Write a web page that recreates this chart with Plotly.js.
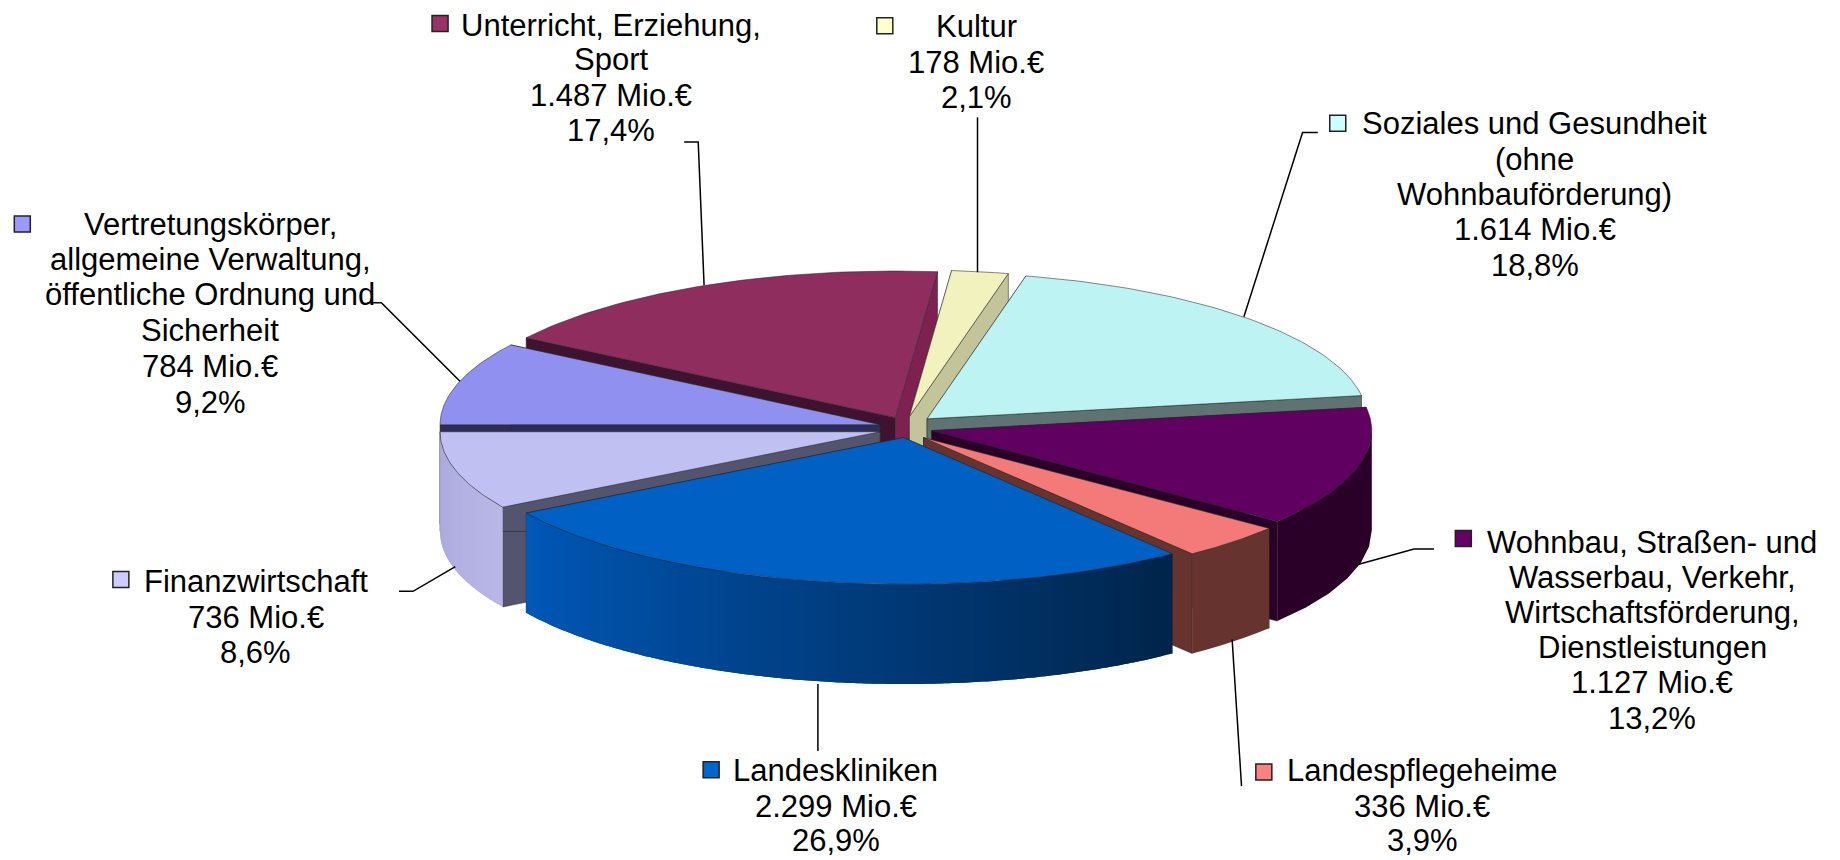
<!DOCTYPE html>
<html><head><meta charset="utf-8">
<script src="https://cdn.plot.ly/plotly-3.0.1.min.js"></script>
<style>html,body{margin:0;padding:0;background:#fff}#c{width:1840px;height:860px}</style>
</head><body><div id="c"></div>
<script>
// DATA (clockwise from the top)
const categories=["Kultur","Soziales und Gesundheit (ohne Wohnbauförderung)","Wohnbau, Straßen- und Wasserbau, Verkehr, Wirtschaftsförderung, Dienstleistungen","Landespflegeheime","Landeskliniken","Finanzwirtschaft","Vertretungskörper, allgemeine Verwaltung, öffentliche Ordnung und Sicherheit","Unterricht, Erziehung, Sport"];
const values=[178,1614,1127,336,2299,736,784,1487];
const percents=["2,1%","18,8%","13,2%","3,9%","26,9%","8,6%","9,2%","17,4%"];
const valueTexts=["178 Mio.€","1.614 Mio.€","1.127 Mio.€","336 Mio.€","2.299 Mio.€","736 Mio.€","784 Mio.€","1.487 Mio.€"];
const labelLines=[["Kultur"],["Soziales und Gesundheit","(ohne","Wohnbauförderung)"],["Wohnbau, Straßen- und","Wasserbau, Verkehr,","Wirtschaftsförderung,","Dienstleistungen"],["Landespflegeheime"],["Landeskliniken"],["Finanzwirtschaft"],["Vertretungskörper,","allgemeine Verwaltung,","öffentliche Ordnung und","Sicherheit"],["Unterricht, Erziehung,","Sport"]];

// STYLE / LAYOUT (axis units = 1568x733 grid)
const topColors=["#f2f2bf","#bdf3f3","#600060","#f47a7a","#0060c4","#c0c0f2","#9090f0","#8f2d5e"];
const keyColors=["#ffffcc","#ccffff","#660066","#ff8080","#0066cc","#ccccff","#9999ff","#993366"];
const startWall=["#c4c49b","#8fb5b5","#2a0028","#67332f","#003060","#55546f","#2e2d5a","#3f1230"];
const endWall=["#c4c49b","#5f7372","#2a0028","#67332f","#003060","#55546f","#2e2d5a","#7e2050"];
const rimFrom=["#c4c49b","#8fb5b5","#2a0028","#67332f","#00244a","#b8b7e6","#2e2d5a","#7e2050"];
const rimTo=["#c4c49b","#8fb5b5","#2a0028","#67332f","#0058b8","#a9a8dc","#2e2d5a","#7e2050"];
const apexX=[775,790,794,787,770,750,750,763];
const apexY=[355,357,367,373,373,368,362,356];
const drawOrder=[7,0,1,6,2,5,3,4];
const radiusA=375, radiusB=125, depth=85, startAngle=5.5;
const lineX=[832,1308,1408,1212,712,218,179,521];
const lineY=[[23,53,83],[105,136,166,196,226],[462,492,522,552,582,612],[657,687,716],[657,687,716],[496,526,556],[191,221,251,282,312,343],[22,51,81,111]];
const keyX=[754,1140,1247,1077,606,103,19,375];
const keyY=[22,105,459,658,656,494,191,20];
const leaders=[
 [[833,100],[833,232]],
 [[1123,113],[1110,113],[1060,270]],
 [[1222,468],[1205,468],[1158,481]],
 [[1058,670],[1050,545]],
 [[697,640],[697,583]],
 [[340,504],[352,504],[388,483]],
 [[313,258],[325,258],[392,325]],
 [[583,121],[595,121],[600,243]]];

const total=values.reduce((a,b)=>a+b,0);
const rad=d=>d*Math.PI/180;
const hex=c=>[1,3,5].map(i=>parseInt(c.substr(i,2),16));
const mix=(a,b,f)=>{const A=hex(a),B=hex(b);return 'rgb('+A.map((v,i)=>Math.round(v+(B[i]-v)*f)).join(',')+')';};
let spans=[],acc=startAngle;
values.forEach(v=>{const s=acc;acc+=v/total*360;spans.push([s,acc]);});
const pt=(i,t)=>[apexX[i]+radiusA*Math.sin(rad(t)),apexY[i]-radiusB*Math.cos(rad(t))];
const traces=[];
function poly(pts,fill,edge){
  const p=pts.concat([pts[0]]);
  traces.push({type:'scatter',mode:'lines',x:p.map(q=>q[0]),y:p.map(q=>q[1]),fill:'toself',fillcolor:fill,
    line:{color:edge,width:1},hoverinfo:'skip',showlegend:false});
}
const edge='rgba(40,40,40,0.55)';
drawOrder.forEach(i=>{
  const [s,e]=spans[i];
  const a=[apexX[i],apexY[i]];
  // cut faces
  [[s,startWall[i]],[e,endWall[i]]].forEach(([t,c])=>{
    const r=pt(i,t);
    poly([a,r,[r[0],r[1]+depth],[a[0],a[1]+depth]],c,edge);
  });
  // rim, front-facing part, in shaded strips that overlap so no seams show
  const lo=Math.max(s,90),hi=Math.min(e,270);
  if(hi>lo){
    const n=(rimFrom[i]===rimTo[i])?1:Math.ceil((hi-lo)/1.5);
    for(let k=0;k<n;k++){
      const t0=lo+(hi-lo)*k/n,t1=Math.min(hi,lo+(hi-lo)*(k+2)/n);
      const up=[],dn=[];
      for(let j=0;j<=6;j++){const p=pt(i,t0+(t1-t0)*j/6);up.push(p);dn.unshift([p[0],p[1]+depth]);}
      const col=mix(rimFrom[i],rimTo[i],n>1?(k+.5)/n:0);
      const ring=up.concat(dn,[up[0]]);
      traces.push({type:'scatter',mode:'none',x:ring.map(q=>q[0]),y:ring.map(q=>q[1]),
        fill:'toself',fillcolor:col,hoverinfo:'skip',showlegend:false});
    }
  }
  // top
  const top=[a];
  for(let j=0;j<=60;j++)top.push(pt(i,s+(e-s)*j/60));
  poly(top,topColors[i],edge);
});
// leader lines
leaders.forEach(l=>traces.push({type:'scatter',mode:'lines',x:l.map(p=>p[0]),y:l.map(p=>p[1]),line:{color:'#000',width:1.5},hoverinfo:'skip',showlegend:false}));
// legend keys
traces.push({type:'scatter',mode:'markers',x:keyX,y:keyY,marker:{symbol:'square',size:16,color:keyColors,line:{color:'#222',width:1.5}},hoverinfo:'skip',showlegend:false});
// labels: one text per line for exact leading
const annotations=[];
categories.forEach((c,i)=>{
  const lines=labelLines[i].concat([valueTexts[i],percents[i]]);
  lines.forEach((t,k)=>annotations.push({x:lineX[i],y:lineY[i][k],xref:'x',yref:'y',text:t,showarrow:false,xanchor:'center',yanchor:'middle',
    font:{family:'"Liberation Sans",Arial,sans-serif',size:31,color:'#000'}}));
});
Plotly.newPlot('c',traces,{
  width:1840,height:860,margin:{l:0,r:0,t:0,b:0},paper_bgcolor:'#fff',plot_bgcolor:'#fff',showlegend:false,
  xaxis:{range:[0,1568],visible:false,fixedrange:true},
  yaxis:{range:[733,0],visible:false,fixedrange:true},
  annotations
},{displayModeBar:false,staticPlot:true});
</script></body></html>
